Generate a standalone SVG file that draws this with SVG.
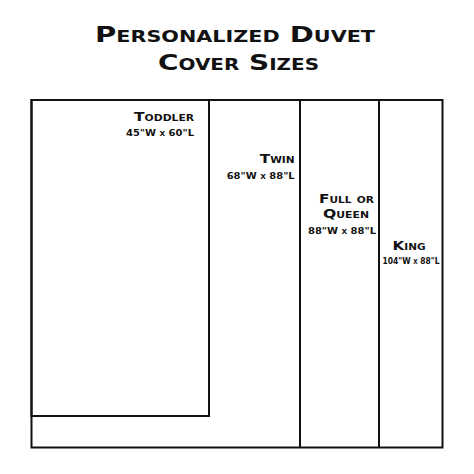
<svg xmlns="http://www.w3.org/2000/svg" width="474" height="474" viewBox="0 0 474 474">
<style>
.t{font-family:"DejaVu Sans","Liberation Sans",sans-serif;font-weight:bold;font-variant:small-caps;fill:#111}
.box{fill:none;stroke:#111;stroke-width:2}
</style>
<rect width="474" height="474" fill="#fff"/>
<g id="title">
<text class="t" x="235" y="42" font-size="21" text-anchor="middle" textLength="280" lengthAdjust="spacingAndGlyphs">Personalized Duvet</text>
<text class="t" x="238.5" y="70" font-size="21" text-anchor="middle" textLength="161" lengthAdjust="spacingAndGlyphs">Cover Sizes</text>
</g>
<g id="king">
<rect class="box" x="31.5" y="100" width="411" height="347.5"/>
<text class="t" x="409" y="250" font-size="13" text-anchor="middle" textLength="33" lengthAdjust="spacingAndGlyphs">King</text>
<text class="t" x="411" y="264.3" font-size="9.5" text-anchor="middle" textLength="57" lengthAdjust="spacingAndGlyphs">104"W x 88"L</text>
</g>
<g id="full-queen">
<line class="box" x1="379" y1="100" x2="379" y2="447.5"/>
<text class="t" x="346.5" y="203.3" font-size="13" text-anchor="middle" textLength="55" lengthAdjust="spacingAndGlyphs">Full or</text>
<text class="t" x="346" y="217.7" font-size="13" text-anchor="middle" textLength="46" lengthAdjust="spacingAndGlyphs">Queen</text>
<text class="t" x="342" y="234.3" font-size="9.5" text-anchor="middle" textLength="68" lengthAdjust="spacingAndGlyphs">88"W x 88"L</text>
</g>
<g id="twin">
<line class="box" x1="300" y1="100" x2="300" y2="447.5"/>
<text class="t" x="294.7" y="163.3" font-size="13" text-anchor="end" textLength="35" lengthAdjust="spacingAndGlyphs">Twin</text>
<text class="t" x="294.7" y="179" font-size="9.5" text-anchor="end" textLength="68" lengthAdjust="spacingAndGlyphs">68"W x 88"L</text>
</g>
<g id="toddler">
<rect class="box" x="31.5" y="100" width="177.5" height="316"/>
<text class="t" x="194" y="120.7" font-size="13" text-anchor="end" textLength="60" lengthAdjust="spacingAndGlyphs">Toddler</text>
<text class="t" x="194" y="136" font-size="9.5" text-anchor="end" textLength="68" lengthAdjust="spacingAndGlyphs">45"W x 60"L</text>
</g>
<g id="connectors"></g>
</svg>
